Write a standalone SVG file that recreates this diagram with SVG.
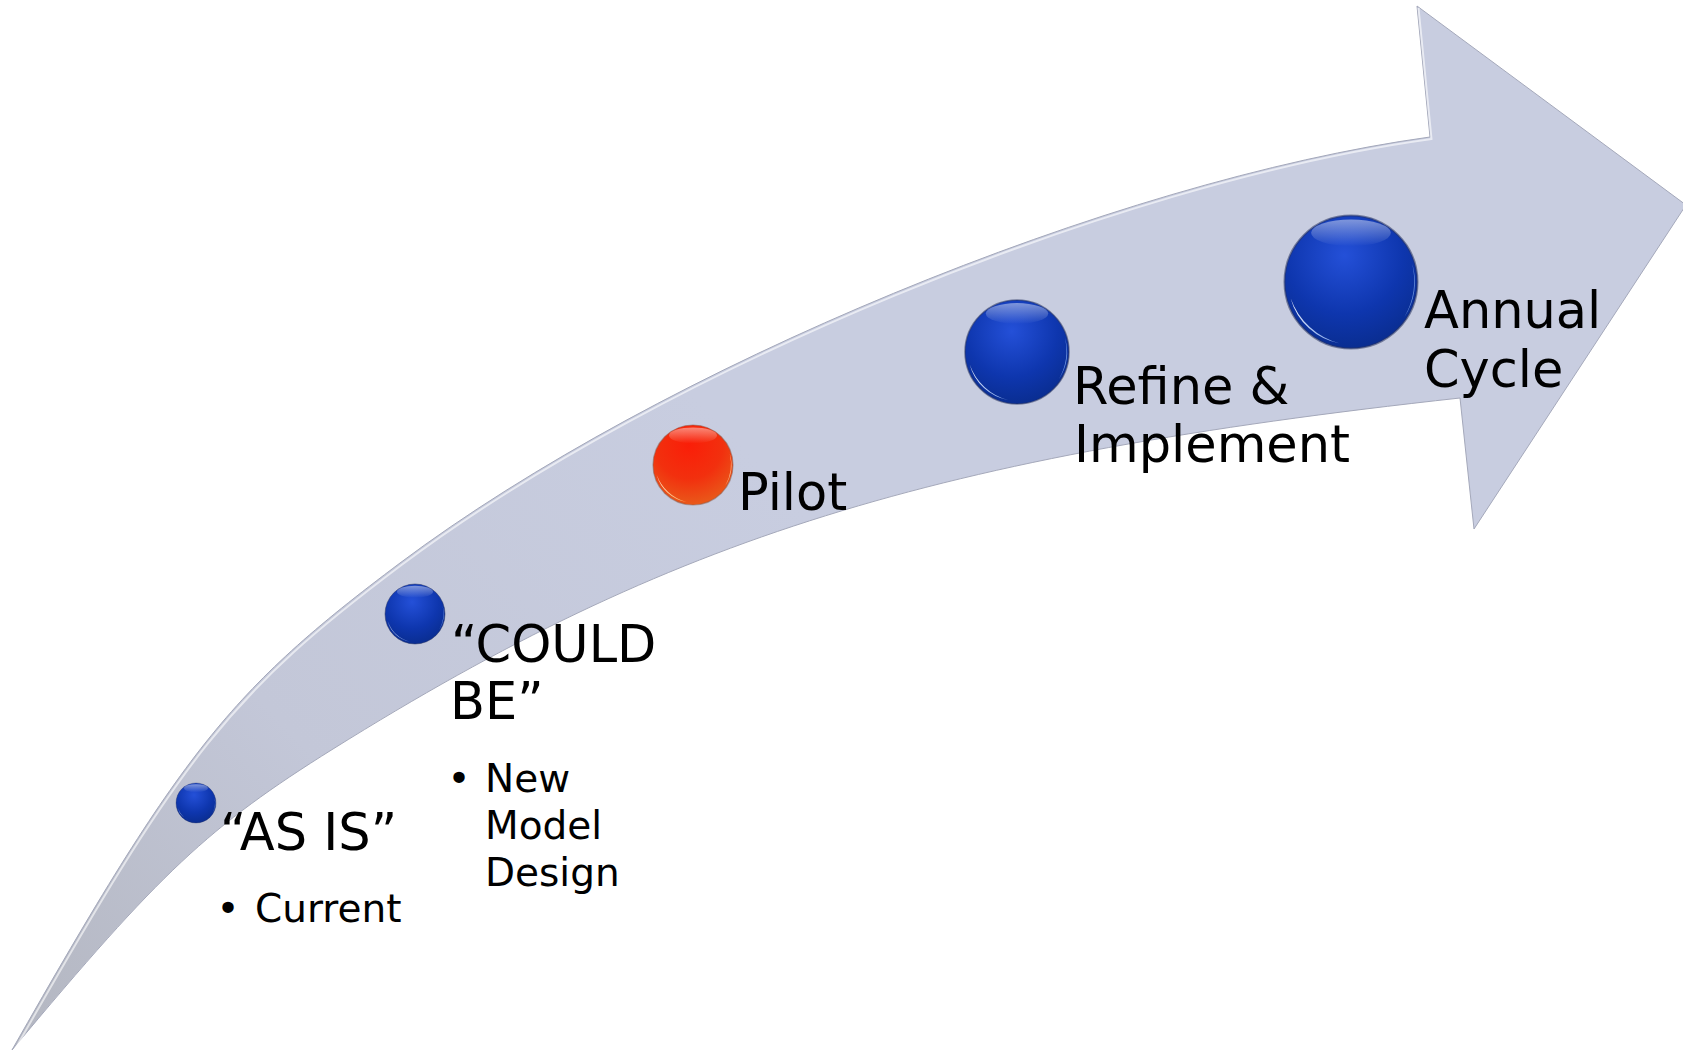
<svg xmlns="http://www.w3.org/2000/svg" xmlns:xlink="http://www.w3.org/1999/xlink" width="1683" height="1052" viewBox="0 0 1683 1052">
<style>
.lbl{font-family:"DejaVu Sans","Liberation Sans",sans-serif;font-size:51px;fill:#000}
.sub{font-family:"DejaVu Sans","Liberation Sans",sans-serif;font-size:39px;fill:#000}
</style>
<defs>
<linearGradient id="bandFill" x1="0" y1="1050" x2="700" y2="400" gradientUnits="userSpaceOnUse">
<stop offset="0" stop-color="#B3B6C0"/>
<stop offset="0.45" stop-color="#C3C7D8"/>
<stop offset="1" stop-color="#C8CDE0"/>
</linearGradient>
<radialGradient id="gBlue" cx="0.45" cy="0.3" r="0.8">
<stop offset="0" stop-color="#2450D8"/>
<stop offset="0.55" stop-color="#0E36AE"/>
<stop offset="1" stop-color="#082A86"/>
</radialGradient>
<radialGradient id="gRed" cx="0.45" cy="0.25" r="0.85">
<stop offset="0" stop-color="#FA1E08"/>
<stop offset="0.5" stop-color="#F2300E"/>
<stop offset="1" stop-color="#E6661E"/>
</radialGradient>
<linearGradient id="topGlow" x1="0" y1="0" x2="0" y2="1">
<stop offset="0" stop-color="#FFFFFF" stop-opacity="0.45"/>
<stop offset="1" stop-color="#FFFFFF" stop-opacity="0"/>
</linearGradient>
<linearGradient id="crescW" x1="0" y1="0" x2="1" y2="1">
<stop offset="0" stop-color="#FFFFFF" stop-opacity="0.95"/>
<stop offset="1" stop-color="#9EC0FF" stop-opacity="0.8"/>
</linearGradient>
<linearGradient id="crescR" x1="0" y1="0" x2="1" y2="1">
<stop offset="0" stop-color="#FFFBEA" stop-opacity="0.95"/>
<stop offset="1" stop-color="#FFC070" stop-opacity="0.8"/>
</linearGradient>
<g id="sphereBlue">
<circle r="50" fill="url(#gBlue)" stroke="#2A3560" stroke-opacity="0.55" stroke-width="1.5"/>
<ellipse cx="0" cy="-37" rx="30" ry="10" fill="url(#topGlow)"/>
<path d="M -45.4,12.2 A 47 47 0 0 0 -8.2,46.3 A 54 54 0 0 1 -45.4,12.2 Z" fill="url(#crescW)"/>
<path d="M 46,-14 A 48 48 0 0 1 40.3,26.1 A 56 56 0 0 0 46,-14 Z" fill="#8FB6F5" fill-opacity="0.75"/>
</g>
<g id="sphereRed">
<circle r="50" fill="url(#gRed)" stroke="#8A5A4A" stroke-opacity="0.5" stroke-width="1.5"/>
<ellipse cx="0" cy="-37" rx="30" ry="10" fill="url(#topGlow)"/>
<path d="M -45.4,12.2 A 47 47 0 0 0 -8.2,46.3 A 54 54 0 0 1 -45.4,12.2 Z" fill="url(#crescR)"/>
<path d="M 46,-14 A 48 48 0 0 1 40.3,26.1 A 56 56 0 0 0 46,-14 Z" fill="#FFD0A0" fill-opacity="0.8"/>
</g>
</defs>
<rect width="1683" height="1052" fill="#FFFFFF"/>
<g id="connectors">
<path id="arrow" d="M 12,1050 C 182.2,750.4 229.9,690.5 400,563 C 659.8,368.2 1113,180.7 1430,137 L 1417,6 L 1686,205 L 1474,529 L 1460,398 C 931.6,456.1 672.4,536.9 333,749 C 208.6,826.8 160.4,871.9 12,1050 Z" fill="url(#bandFill)" stroke="#A4A8BA" stroke-width="1"/>
<path d="M 12,1050 C 182.2,750.4 229.9,690.5 400,563 C 659.8,368.2 1113,180.7 1430,137 L 1417,6" transform="translate(1.5,2)" fill="none" stroke="#FFFFFF" stroke-opacity="0.6" stroke-width="2"/>
</g>
<g id="node-asis">
<use xlink:href="#sphereBlue" transform="translate(196,803) scale(0.4)"/>
<text class="lbl" x="220" y="850">“AS IS”</text>
<text class="sub" x="228" y="922" text-anchor="middle">•</text>
<text class="sub" x="255" y="922">Current</text>
</g>
<g id="node-couldbe">
<use xlink:href="#sphereBlue" transform="translate(415,614) scale(0.6)"/>
<text class="lbl" x="451" y="662">“COULD</text>
<text class="lbl" x="450" y="719">BE”</text>
<text class="sub" x="459" y="792" text-anchor="middle">•</text>
<text class="sub" x="485" y="792">New</text>
<text class="sub" x="485" y="839">Model</text>
<text class="sub" x="485" y="886">Design</text>
</g>
<g id="node-pilot">
<use xlink:href="#sphereRed" transform="translate(693,465) scale(0.8)"/>
<text class="lbl" x="738" y="510">Pilot</text>
</g>
<g id="node-refine">
<use xlink:href="#sphereBlue" transform="translate(1017,352) scale(1.04)"/>
<text class="lbl" x="1073" y="404">Refine &amp;</text>
<text class="lbl" x="1074" y="462">Implement</text>
</g>
<g id="node-annual">
<use xlink:href="#sphereBlue" transform="translate(1351,282) scale(1.33)"/>
<text class="lbl" x="1424" y="328">Annual</text>
<text class="lbl" x="1424" y="387">Cycle</text>
</g>
</svg>
